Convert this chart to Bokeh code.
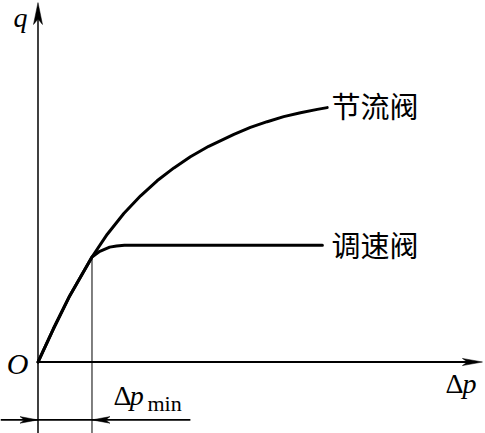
from bokeh.plotting import figure
from bokeh.models import Range1d, Label
from bokeh.embed import file_html
from bokeh.resources import INLINE

# ---- data (abstract units) ----
dp_throttle = [0, 0.51, 1.06, 1.80, 2.31, 2.86, 3.42, 3.97, 4.53, 5.08, 5.69, 6.53,
               7.08, 7.64, 8.19, 8.75, 9.31, 9.64]
q_throttle = [0, 1.10, 2.21, 3.50, 4.26, 4.95, 5.54, 6.04, 6.47, 6.84, 7.19, 7.59,
              7.82, 8.01, 8.18, 8.31, 8.42, 8.48]
dp_speed = [0, 0.51, 1.06, 1.80, 2.06, 2.39, 2.62, 2.88, 9.48]
q_speed = [0, 1.10, 2.21, 3.50, 3.69, 3.83, 3.87, 3.89, 3.89]
dp_min = 1.80
labels = ["节流阀", "调速阀"]

X0, X1 = -1.25, 14.917
Y0, Y1 = -2.383, 12.05

p = figure(width=485, height=433, x_range=Range1d(X0, X1), y_range=Range1d(Y0, Y1),
           output_backend="svg", toolbar_location=None, min_border=0)
p.axis.visible = False
p.grid.visible = False
p.outline_line_color = None
p.background_fill_color = "white"
p.border_fill_color = "white"

def head(tx, ty, dx, dy, L, w):
    # polygon for a barbed arrow head with tip (tx, ty) pointing along (dx, dy)
    nx, ny = -dy, dx
    bx, by = tx - dx * L, ty - dy * L
    mx, my = tx - dx * L * 0.75, ty - dy * L * 0.75
    return ([tx, bx + nx * w, mx, bx - nx * w], [ty, by + ny * w, my, by - ny * w])

y_top = Y1 - 0.07
x_end = X1 - 0.1
dim_y = -1.93

# axes
p.segment(x0=[0], y0=[Y0], x1=[0], y1=[y_top - 0.3], line_color="black", line_width=1.5)
p.segment(x0=[0], y0=[0], x1=[x_end - 0.3], y1=[0], line_color="black", line_width=2)
# Δp_min guide and dimension line
p.segment(x0=[dp_min], y0=[Y0], x1=[dp_min], y1=[q_speed[3]], line_color="black", line_width=1)
p.segment(x0=[X0], y0=[dim_y], x1=[dp_min + 3.28], y1=[dim_y], line_color="black", line_width=1.8)

heads = [head(0, y_top, 0, 1, 0.73, 0.15),
         head(x_end, 0, 1, 0, 0.67, 0.12),
         head(0, dim_y, 1, 0, 0.6, 0.11),
         head(dp_min, dim_y, -1, 0, 0.6, 0.11)]
p.patches(xs=[h[0] for h in heads], ys=[h[1] for h in heads], fill_color="black",
          line_color="black", line_width=0.5)

# curves
p.line(dp_throttle, q_throttle, line_color="black", line_width=3, line_join="round", line_cap="round")
p.line(dp_speed, q_speed, line_color="black", line_width=3, line_join="round", line_cap="round")

serif = "Liberation Serif"
def lab(x, y, t, size, style="normal", font=serif, align="left", baseline="alphabetic"):
    p.add_layout(Label(x=x, y=y, text=t, text_font=font, text_font_size=f"{size}px",
                       text_font_style=style, text_color="black", text_align=align,
                       text_baseline=baseline))

s = 0.32
lab(-0.82, 11.47, "q", 28, "italic")
lab(-0.32, -0.42 + 0.38, "O", 30, "italic", align="right")
lab(13.58, -1.02 + s, "Δ", 28)
lab(14.15, -1.02 + s, "p", 28, "italic")
lab(2.52, -1.43 + s, "Δ", 28)
lab(3.06, -1.43 + s, "p", 28, "italic")
lab(3.65, -1.70 + s, "min", 22)

cjk = "Noto Sans CJK SC"
lab(dp_throttle[-1] + 0.14, q_throttle[-1] + 0.08, labels[0], 29, font=cjk, baseline="middle")
lab(dp_speed[-1] + 0.30, q_speed[-1] + 0.06, labels[1], 29, font=cjk, baseline="middle")

open("out.html", "w").write(file_html(p, INLINE))
